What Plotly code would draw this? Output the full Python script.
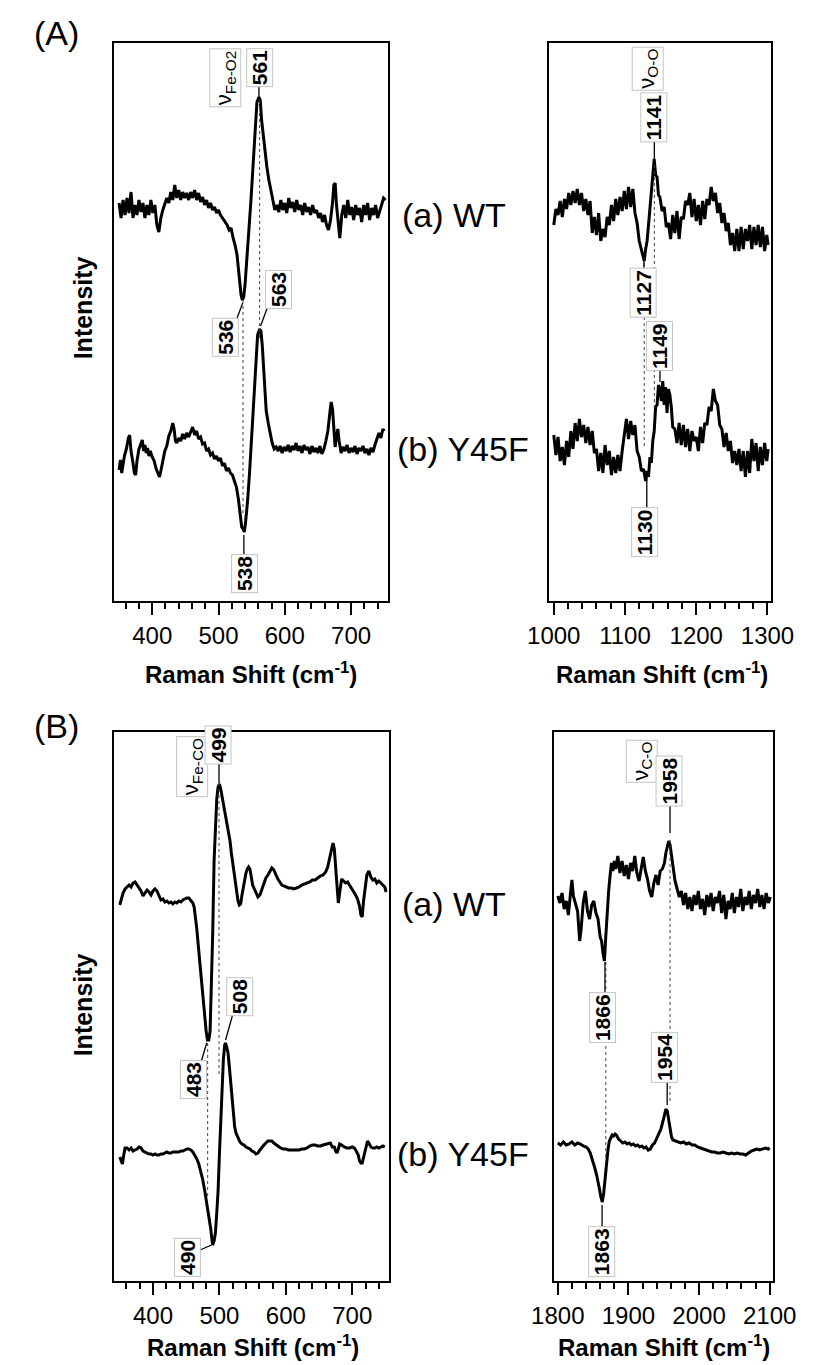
import plotly.graph_objects as go

# ---------------- DATA ----------------
# (A) Fe-O2 region, WT
a_low_x_wt = [350,353,356,359,362,365,368,371,374,377,380,383,386,389,392,395,398,401,404,407,
              410,413,416,419,422,425,428,431,434,437,440,443,446,449,452,455,458,461,464,467,
              470,473,476,479,482,485,488,491,494,497,500,503,506,509,
              513,516,519,522,525,528,531,534,536,538,540,542,
              546,549,552,555,558,561,563,565,567,570,573,576,579,582,585,
              588,591,594,597,600,603,606,609,612,615,618,621,624,627,630,633,636,639,642,645,
              648,651,654,657,660,663,666,669,672,674,676,678,681,683,
              686,689,692,695,698,701,704,707,710,713,716,719,722,725,728,731,734,737,740,743,746,749,752]
a_low_wt = [398,383,401,386,403,388,409,383,396,386,401,389,398,383,396,386,401,388,396,376,
            369,383,391,396,403,398,409,401,416,403,411,401,409,403,408,401,409,403,411,401,
            408,399,404,396,401,393,398,391,394,388,391,386,383,379,
            376,371,373,363,356,346,326,306,301,304,316,334,
            368,401,434,468,499,504,501,481,468,451,434,421,409,401,391,
            396,389,401,391,398,388,403,393,399,389,401,391,396,386,398,389,394,386,396,388,
            391,383,388,379,386,376,371,381,398,416,418,396,376,363,
            386,396,383,401,386,394,381,396,386,393,379,396,386,398,381,393,386,396,383,391,396,403,401]

# (A) Fe-O2 region, Y45F
a_low_x_mut = [350,352,354,356,358,361,364,366,368,371,373,375,377,380,383,385,387,389,391,393,
               395,397,400,403,406,409,411,413,416,419,422,425,428,431,433,435,437,440,443,446,
               449,452,455,458,461,464,467,470,473,476,479,482,485,488,491,494,497,500,503,506,
               509,512,515,518,521,524,527,530,533,535,537,539,541,544,547,550,553,556,559,562,
               564,566,568,570,572,575,578,581,584,587,590,593,596,599,602,605,608,611,614,617,
               620,623,626,629,632,635,638,641,644,647,650,653,656,659,662,665,668,670,672,674,
               676,678,680,682,685,688,691,694,697,700,703,706,709,712,715,718,721,724,727,730,
               733,736,739,742,745,748,750]
a_low_mut = [131,141,128,138,145,152,163,166,150,138,128,126,140,152,158,161,150,156,148,153,
             145,150,144,140,132,128,124,130,142,150,155,165,170,178,172,160,158,163,160,167,
             162,168,164,169,174,166,170,162,164,157,158,150,152,146,148,142,145,140,143,135,
             138,130,133,128,126,120,114,102,88,74,72,69,80,101,130,163,201,241,266,272,
             270,256,236,218,190,178,168,158,152,154,150,155,148,154,150,156,149,155,151,158,
             150,155,148,156,151,154,147,155,149,153,148,155,147,152,160,170,188,199,192,170,
             154,165,172,160,148,154,150,156,148,153,149,155,147,153,150,155,148,152,146,153,
             149,156,162,168,163,172,170]

# (A) O-O region, WT
a_high_x_wt = [1000,1003,1006,1009,1012,1015,1018,1021,1024,1027,1030,1033,1036,1039,1042,1045,1048,1051,1054,1057,
               1060,1063,1066,1069,1072,1075,1078,1081,1084,1087,1090,1093,1096,1099,1102,1105,1108,1111,1114,1117,
               1120,1123,1125,1127,1129,1131,1133,1135,1137,1139,1141,1143,1145,1147,1149,
               1152,1155,1158,1161,1164,1167,1170,1173,1176,1179,1182,1185,1188,1191,1194,1197,1200,1203,1206,1209,
               1212,1215,1218,1221,1224,1227,1230,1233,1236,1239,1242,1245,1248,1251,1254,1257,1260,1263,1266,1269,
               1272,1275,1278,1281,1284,1287,1290,1293,1296,1299,1301]
a_high_wt = [376,392,386,400,384,402,392,408,396,410,398,412,396,408,390,402,386,400,368,384,
             366,388,360,372,364,384,376,396,380,402,386,404,390,410,392,414,394,412,388,378,
             360,350,346,340,352,360,376,394,414,430,442,426,424,406,404,
             390,394,374,378,362,386,368,390,362,384,382,400,396,408,384,402,380,396,376,400,
             382,402,396,414,400,408,388,398,378,388,370,378,356,368,350,372,350,374,352,372,
             360,376,352,374,356,376,354,374,350,366,356]

# (A) O-O region, Y45F
a_high_x_mut = [1000,1003,1006,1009,1012,1015,1018,1021,1024,1027,1030,1033,1036,1039,1042,1045,1048,1051,1054,1057,
                1060,1063,1066,1069,1072,1075,1078,1081,1084,1087,1090,1093,1096,1099,1102,1105,1108,1111,1114,1117,
                1120,1123,1126,1129,1131,1133,1135,1137,1139,1141,1143,1145,1147,1149,1151,1153,1155,1157,1159,1161,
                1163,1165,1167,1170,1173,1176,1179,1182,1185,1188,1191,1194,1197,1200,1203,1206,1209,1212,1215,1218,
                1221,1224,1227,1230,1233,1236,1239,1242,1245,1248,1251,1254,1257,1260,1263,1266,1269,1272,1275,1278,
                1281,1284,1287,1290,1293,1296,1299,1301]
a_high_mut = [166,146,164,140,154,136,160,144,170,152,178,160,182,164,176,158,174,156,170,148,
              152,130,148,128,156,136,150,126,144,128,146,130,150,168,182,162,180,166,176,150,
              144,130,132,120,130,124,144,138,160,170,194,196,216,212,200,220,196,214,188,212,
              206,194,174,172,158,178,156,176,154,172,150,170,160,164,150,174,158,178,176,194,
              190,212,200,196,176,172,154,168,150,160,138,150,136,152,130,150,124,150,128,162,
              140,158,130,154,136,158,140,152]

# (B) Fe-CO region, WT
b_low_x_wt = [350,352,355,358,361,364,367,370,373,376,379,382,385,388,391,394,397,400,403,406,
              409,412,415,418,421,424,427,430,433,436,439,442,445,448,451,454,457,460,462,464,
              466,468,470,472,474,476,478,480,482,484,486,488,490,492,494,496,498,500,502,504,
              506,508,510,512,514,516,518,520,522,524,526,528,530,532,534,536,538,540,542,544,
              546,548,550,552,555,558,561,564,567,570,573,576,579,582,585,588,591,594,597,600,
              604,608,612,616,620,624,628,632,636,640,644,648,652,656,660,663,666,669,671,673,
              675,677,679,681,684,687,690,693,696,699,702,705,708,711,713,715,717,720,722,725,
              728,731,734,737,740,743,746,749,751]
b_low_wt = [376,381,388,392,394,396,394,398,399,396,393,390,385,388,391,389,386,390,392,390,
            386,381,382,379,380,378,379,377,379,378,380,379,381,382,383,383,381,378,374,365,
            352,337,322,306,290,276,262,250,241,241,250,290,350,420,460,482,494,497,492,485,
            476,468,462,456,450,440,428,418,406,396,388,380,376,377,386,394,402,408,412,414,
            412,404,396,393,388,384,386,392,398,403,406,410,413,411,406,402,399,396,395,394,
            393,393,392,393,394,396,397,398,399,401,401,403,405,406,409,414,422,432,438,432,
            414,396,378,388,402,400,398,399,396,392,389,386,382,375,366,364,380,396,406,410,
            404,401,402,398,400,398,396,394,389]

# (B) Fe-CO region, Y45F
b_low_x_mut = [350,352,354,356,358,361,364,367,370,373,376,379,382,385,388,391,394,397,400,403,
               406,409,412,415,418,421,424,427,430,433,436,439,442,445,448,451,454,457,460,463,
               466,469,472,475,478,481,484,487,489,490,492,494,496,498,500,502,504,506,508,509,
               511,513,515,517,519,521,523,525,528,531,534,537,540,543,546,549,552,555,558,561,
               564,567,570,573,576,579,582,585,588,592,596,600,604,608,612,616,620,624,628,632,
               636,640,644,648,652,656,660,664,667,670,673,675,677,679,681,684,688,692,696,700,
               703,706,709,711,713,715,717,719,721,723,725,728,731,734,737,740,743,746,749]
b_low_mut = [124,121,117,126,133,133,131,133,130,131,132,134,133,130,129,128,127,127,126,127,
             126,126,127,127,128,129,128,128,129,129,129,129,130,130,131,132,132,131,129,126,
             122,117,110,101,90,78,64,52,40,36,40,48,68,90,126,165,195,222,236,238,
             234,228,214,198,180,164,154,148,143,139,137,136,134,133,132,130,129,127,128,131,
             134,136,138,140,140,140,138,136,135,133,132,132,131,131,131,131,131,132,132,133,
             135,136,136,135,135,136,137,138,138,134,134,130,128,132,137,136,134,133,133,134,
             133,130,126,120,118,118,124,131,137,140,138,134,133,133,134,133,134,135,134]

# (B) C-O region, WT
b_high_x_wt = [1800,1803,1806,1809,1812,1815,1818,1820,1822,1825,1828,1831,1833,1836,1839,1842,1845,1848,1851,1854,
               1857,1860,1862,1864,1866,1868,1870,1872,1874,1876,1878,1880,1882,1885,1888,1891,1894,1897,1900,1903,
               1906,1909,1912,1915,1918,1921,1924,1927,1930,1933,1936,1939,1942,1945,1948,1951,1953,1955,1957,1959,
               1961,1963,1966,1969,1972,1975,1978,1981,1984,1987,1990,1993,1996,1999,2002,2005,2008,2011,2014,2017,
               2020,2023,2026,2029,2032,2035,2038,2041,2044,2047,2050,2053,2056,2059,2062,2065,2068,2071,2074,2077,
               2080,2083,2086,2089,2092,2095,2098,2101]
b_high_wt = [385,378,388,372,380,366,388,401,385,376,370,340,352,378,390,370,362,376,380,368,
             362,344,340,328,320,345,370,390,405,418,410,420,412,425,408,420,405,416,402,418,
             410,425,408,400,412,424,410,402,390,384,398,406,396,410,412,418,428,436,440,436,
             424,414,400,392,384,390,376,388,372,384,370,386,376,390,372,382,366,386,374,388,
             370,384,378,390,368,386,362,380,372,388,368,384,374,392,370,384,376,390,372,386,
             378,392,374,386,372,388,378,384]

# (B) C-O region, Y45F
b_high_x_mut = [1800,1804,1808,1812,1816,1820,1824,1828,1832,1836,1840,1843,1846,1849,1852,1855,1857,1859,1861,1863,
                1865,1867,1869,1871,1873,1875,1877,1879,1881,1883,1886,1889,1892,1895,1898,1901,1904,1907,1910,1913,
                1916,1919,1922,1925,1928,1931,1934,1937,1940,1943,1946,1949,1951,1953,1955,1957,1959,1961,1963,1966,
                1970,1974,1978,1982,1986,1990,1994,1998,2002,2006,2010,2014,2018,2022,2026,2030,2034,2038,2042,2046,
                2050,2054,2058,2062,2066,2070,2074,2078,2082,2086,2090,2094,2098,2100]
b_high_mut = [138,136,139,136,137,139,136,138,137,135,134,132,128,122,114,106,100,92,84,79,
              88,104,120,131,140,144,146,145,147,146,142,140,138,139,137,138,136,137,135,136,
              134,135,133,134,131,132,136,138,143,147,152,160,166,172,170,160,150,144,141,140,
              139,138,139,137,138,136,136,134,133,132,131,130,129,129,128,128,129,128,127,128,
              127,128,127,127,126,128,130,131,132,131,132,133,132,133]

axis_title = "Raman Shift (cm<sup>-1</sup>)"
sample_labels = ["(a) WT", "(b) Y45F"]

# ---------------- FIGURE ----------------
FONT = "Liberation Sans, Arial, sans-serif"
fig = go.Figure()

series = [
    ("x", "y", a_low_x_wt, a_low_wt), ("x", "y", a_low_x_mut, a_low_mut),
    ("x2", "y2", a_high_x_wt, a_high_wt), ("x2", "y2", a_high_x_mut, a_high_mut),
    ("x3", "y3", b_low_x_wt, b_low_wt), ("x3", "y3", b_low_x_mut, b_low_mut),
    ("x4", "y4", b_high_x_wt, b_high_wt), ("x4", "y4", b_high_x_mut, b_high_mut),
]
for xa, ya, xs, ys in series:
    fig.add_trace(go.Scatter(x=xs, y=ys, xaxis=xa, yaxis=ya, mode="lines",
                             line=dict(color="black", width=3), showlegend=False,
                             hoverinfo="skip"))

W, H = 821, 1365
def px_x(p): return p / W
def px_y(p): return 1 - p / H

def xaxis_style(domain, rng):
    return dict(domain=domain, range=rng, showline=True, linecolor="black", linewidth=2,
                mirror=True, ticks="outside", ticklen=12, tickwidth=2, tickcolor="black",
                dtick=100, tick0=0, showgrid=False, zeroline=False,
                tickfont=dict(family=FONT, size=24, color="black"),
                minor=dict(ticks="outside", ticklen=6, tickwidth=2, tickcolor="black",
                           dtick=20, tick0=0, showgrid=False))

def yaxis_style(domain, rng, anchor):
    return dict(domain=domain, range=rng, showline=True, linecolor="black", linewidth=2,
                mirror=True, ticks="", showticklabels=False, showgrid=False,
                zeroline=False, anchor=anchor)

top_dom = [px_y(601), px_y(43)]
bot_dom = [px_y(1281), px_y(732)]
fig.update_layout(
    xaxis=dict(xaxis_style([px_x(97), px_x(387)], [343, 755.5]), anchor="y"),
    yaxis=yaxis_style(top_dom, [0, 558], "x"),
    xaxis2=dict(xaxis_style([px_x(558), px_x(793)], [993.4, 1304.4]), anchor="y2"),
    yaxis2=yaxis_style(top_dom, [0, 558], "x2"),
    xaxis3=dict(xaxis_style([px_x(97), px_x(388)], [342, 755]), anchor="y3"),
    yaxis3=yaxis_style(bot_dom, [0, 549], "x3"),
    xaxis4=dict(xaxis_style([px_x(563), px_x(796)], [1794.3, 2105.3]), anchor="y4"),
    yaxis4=yaxis_style(bot_dom, [0, 549], "x4"),
)

annotations = []
shapes = []

# peak labels: (text, x, y, axis suffix, bold)
peak_labels = [
    ("ν<sub>Fe-O2</sub>", 510.2, 523, "", False), ("561", 561.4, 533, "", True),
    ("536", 509.5, 264, "", True), ("563", 589.8, 311, "", True), ("538", 538.6, 27, "", True),
    ("ν<sub>O-O</sub>", 1131.9, 532, "2", False), ("1141", 1140.5, 483.5, "2", True),
    ("1127", 1124.8, 308, "2", True), ("1149", 1147.8, 255, "2", True), ("1130", 1127.6, 68.5, "2", True),
    ("ν<sub>Fe-CO</sub>", 458.2, 514.5, "3", False), ("499", 497.2, 536, "3", True),
    ("508", 530.6, 284.5, "3", True), ("483", 460.3, 201, "3", True), ("490", 451.8, 23.5, "3", True),
    ("ν<sub>C-O</sub>", 1918.2, 519.5, "4", False), ("1958", 1957.5, 499.5, "4", True),
    ("1866", 1863.4, 263.5, "4", True), ("1954", 1950.9, 223.5, "4", True), ("1863", 1862.1, 29.5, "4", True),
]
# leader lines (x0, y0, x1, y1, axis suffix)
leaders = [
    (561, 504, 561, 515, ""), (536.5, 298, 528, 283, ""), (563.5, 275, 573.5, 293, ""),
    (538.3, 66, 538.3, 46, ""),
    (1141.2, 441, 1141.2, 459, "2"), (1126.6, 344, 1126.6, 332, "2"),
    (1149.1, 219, 1149.1, 231, "2"), (1130.6, 123, 1130.6, 93, "2"),
    (499.4, 498, 499.4, 518, "3"), (509.3, 241, 520.7, 268, "3"),
    (480.9, 238, 472.4, 219, "3"), (488, 36, 471, 31, "3"),
    (1958.9, 448, 1958.9, 475, "4"), (1866.8, 319, 1866.8, 288, "4"),
    (1954.9, 176, 1954.9, 199, "4"), (1862.7, 76, 1862.7, 54, "4"),
]
# dotted correlation lines (x, y0, y1, axis suffix)
dotted = [
    (562, 500, 262, ""), (537, 301, 88, ""),
    (1141.2, 436, 191, "2"), (1127, 344, 154, "2"),
    (499.4, 498, 204, "3"), (482.3, 238, 84, "3"),
    (1958.9, 441, 178, "4"), (1868, 319, 121, "4"),
]

for x, y0, y1, s in dotted:
    shapes.append(dict(type="line", xref="x" + s, yref="y" + s, x0=x, x1=x, y0=y0, y1=y1,
                       line=dict(color="#444444", width=1, dash="dot"), layer="above"))
for x0, y0, x1, y1, s in leaders:
    shapes.append(dict(type="line", xref="x" + s, yref="y" + s, x0=x0, x1=x1, y0=y0, y1=y1,
                       line=dict(color="black", width=1.3), layer="above"))
for text, x, y, s, bold in peak_labels:
    annotations.append(dict(text=("<b>%s</b>" % text) if bold else text, x=x, y=y,
                            xref="x" + s, yref="y" + s, showarrow=False, textangle=-90,
                            font=dict(family=FONT, size=21 if bold else 22, color="black"),
                            bgcolor="white", bordercolor="#c4c4c4", borderwidth=1, borderpad=1,
                            xanchor="center", yanchor="middle"))

# panel letters
for txt, py in [("(A)", 32.5), ("(B)", 725.5)]:
    annotations.append(dict(text=txt, x=px_x(10), y=px_y(py), xref="paper", yref="paper",
                            showarrow=False, xanchor="left", yanchor="middle",
                            font=dict(family=FONT, size=34, color="black")))
# sample labels
for txt, px, py in [(sample_labels[0], 400, 215), (sample_labels[1], 395, 449),
                    (sample_labels[0], 400, 904), (sample_labels[1], 395, 1154)]:
    annotations.append(dict(text=txt, x=px_x(px), y=px_y(py), xref="paper", yref="paper",
                            showarrow=False, xanchor="left", yanchor="middle",
                            font=dict(family=FONT, size=34, color="black")))
# Intensity
for py in [308, 1005]:
    annotations.append(dict(text="<b>Intensity</b>", x=px_x(64), y=px_y(py), xref="paper",
                            yref="paper", showarrow=False, textangle=-90,
                            xanchor="center", yanchor="middle",
                            font=dict(family=FONT, size=25, color="black")))
# x-axis titles (top row centred; bottom row anchored to the page bottom)
for px in [242, 678]:
    annotations.append(dict(text="<b>" + axis_title + "</b>", x=px_x(px), y=px_y(673),
                            xref="paper", yref="paper", showarrow=False,
                            xanchor="center", yanchor="middle",
                            font=dict(family=FONT, size=24, color="black")))
for px in [244, 680]:
    annotations.append(dict(text="<b>" + axis_title + "</b>", x=px_x(px), y=px_y(1363),
                            xref="paper", yref="paper", showarrow=False,
                            xanchor="center", yanchor="bottom",
                            font=dict(family=FONT, size=24, color="black")))

fig.update_layout(width=W, height=H, margin=dict(l=0, r=0, t=0, b=0),
                  paper_bgcolor="white", plot_bgcolor="white",
                  annotations=annotations, shapes=shapes, showlegend=False)

fig.write_html("out.html")
